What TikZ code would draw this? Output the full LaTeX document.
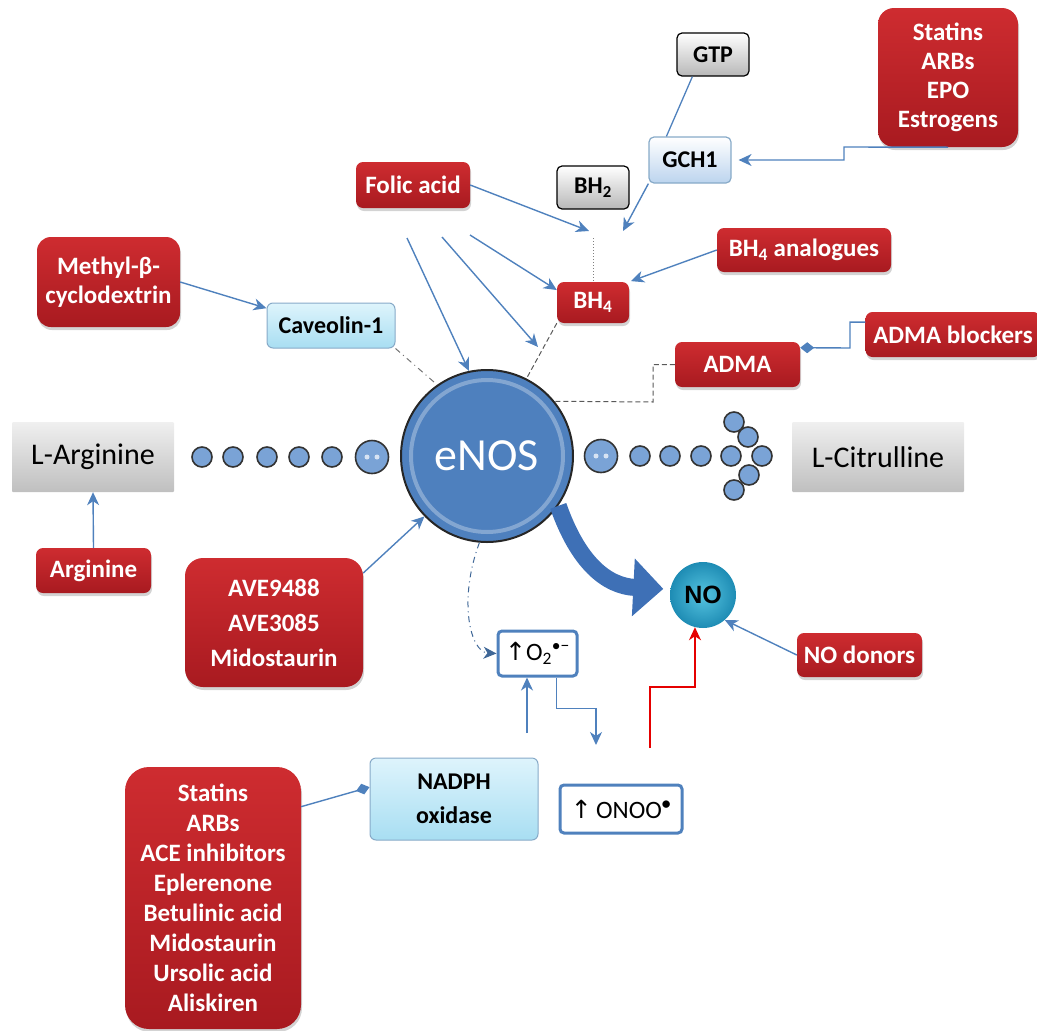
\documentclass[tikz,border=0pt]{standalone}
\usepackage{fontspec}
\setmainfont{Carlito}
\newfontfamily\symbfont{DejaVu Sans}
\newfontfamily\nofont{Liberation Sans}
\usetikzlibrary{arrows.meta,shadows}

\definecolor{linkblue}{RGB}{79,129,189}
\definecolor{drugtop}{RGB}{206,44,48}
\definecolor{drugbot}{RGB}{168,26,32}
\definecolor{paleedge}{RGB}{135,170,200}
\definecolor{cyantop}{RGB}{222,244,252}
\definecolor{cyanbot}{RGB}{168,222,242}
\definecolor{gchbot}{RGB}{188,212,238}
\definecolor{enosblue}{RGB}{78,128,190}
\definecolor{dotblue}{RGB}{122,163,214}
\definecolor{nocore}{RGB}{86,196,224}
\definecolor{norim}{RGB}{30,140,180}
\definecolor{bigblue}{RGB}{62,112,182}

\tikzset{
  drug/.style={rounded corners=7pt, top color=drugtop, bottom color=drugbot, text=white,
    font=\bfseries\fontsize{25}{29}\selectfont, align=center, inner sep=0pt,
    drop shadow={opacity=0.35, shadow xshift=1pt, shadow yshift=-3pt}},
  greybox/.style={draw=black, line width=1.2pt, rounded corners=5pt, top color=white, bottom color=black!28,
    font=\bfseries\fontsize{24}{28}\selectfont, inner sep=0pt},
  palebox/.style={draw=paleedge, line width=1pt, rounded corners=6pt, top color=cyantop, bottom color=cyanbot,
    font=\bfseries\fontsize{24}{34}\selectfont, align=center, inner sep=0pt},
  substrate/.style={rounded corners=1pt, top color=black!6, bottom color=black!25,
    font=\fontsize{30}{34}\selectfont, inner sep=0pt},
  radical/.style={draw=linkblue, line width=3pt, rounded corners=4pt, fill=white,
    font=\fontsize{25}{28}\selectfont, inner sep=0pt},
  dot/.style={circle, draw=black!80, line width=1.6pt, fill=dotblue, minimum size=20pt, inner sep=0pt},
  bigdot/.style={dot, minimum size=33pt},
  arr/.style={draw=linkblue, line width=1.4pt, -{Stealth[length=13pt,width=12pt,inset=4pt]}},
  blocker/.style={draw=linkblue, line width=1.4pt, -{Diamond[length=14pt,width=11pt]}},
  redarr/.style={draw=red!90!black, line width=1.4pt, -{Stealth[length=13pt,width=12pt,inset=4pt]}},
  dashlink/.style={draw=black!65, line width=1pt, dash pattern=on 5pt off 3pt},
  dashdotlink/.style={draw=black!55, line width=1pt, dash pattern=on 6pt off 4pt on 1pt off 4pt},
}

\begin{document}
\begin{tikzpicture}[x=1pt,y=-1pt]
  \useasboundingbox (0,0) rectangle (1037,1031);

  \node[circle, draw=black!85, line width=2pt, fill=enosblue, minimum size=172pt, inner sep=0pt,
    text=white, font=\fontsize{46}{50}\selectfont] (enos) at (487,456) {eNOS};
  \draw[white, opacity=.3, line width=4pt] (enos.center) circle (76);

  \node[greybox, minimum width=72pt, minimum height=43pt] (gtp) at (713,54.5) {GTP};
  \node[greybox, draw=paleedge, bottom color=gchbot, minimum width=82pt, minimum height=46pt] (gch) at (690,160) {GCH1};
  \node[greybox, minimum width=72pt, minimum height=43pt] (bhtwo) at (593,187.5) {BH\textsubscript{2}};
  \node[drug, minimum width=114pt, minimum height=46pt] (folic) at (413,185) {Folic acid};
  \node[drug, minimum width=72pt, minimum height=41pt] (bhfour) at (593,302.5) {BH\textsubscript{4}};
  \node[drug, minimum width=174pt, minimum height=44pt] (bhana) at (804,250) {BH\textsubscript{4} analogues};
  \node[drug, rounded corners=16pt, minimum width=140pt, minimum height=139pt] (statinsA) at (948,77.5)
    {Statins\\ARBs\\EPO\\Estrogens};
  \node[drug, minimum width=125pt, minimum height=45pt] (adma) at (737.5,364.5) {ADMA};
  \node[drug, minimum width=175pt, minimum height=45pt] (admablk) at (953,334.5) {ADMA blockers};
  \node[drug, rounded corners=14pt, minimum width=143pt, minimum height=90pt] (methyl) at (108.5,282)
    {Methyl-β-\\cyclodextrin};
  \node[palebox, minimum width=128pt, minimum height=45pt] (caveolin) at (331,325.5) {Caveolin-1};

  \node[substrate, minimum width=162pt, minimum height=70pt] (larg) at (93,457) {L-Arginine};
  \node[drug, minimum width=115pt, minimum height=45pt] (arginine) at (93.5,570.5) {Arginine};
  \node[drug, rounded corners=18pt, font=\bfseries\fontsize{25}{35}\selectfont, minimum width=178pt,
    minimum height=129pt] (ave) at (274,622.5) {AVE9488\\AVE3085\\Midostaurin};
  \node[substrate, minimum width=172pt, minimum height=70pt] (lcit) at (878,457) {L-Citrulline};

  \node[circle, inner color=nocore, outer color=norim, minimum size=66pt, inner sep=0pt,
    font=\nofont\bfseries\fontsize{25}{28}\selectfont] (no) at (703,595) {NO};
  \node[drug, minimum width=125pt, minimum height=44pt] (nodonor) at (859.5,655) {NO donors};

  \node[radical, minimum width=79pt, minimum height=45pt] (otwo) at (537.5,653.5)
    {{\symbfont ↑}O\textsubscript{2}\textsuperscript{•−}};
  \node[radical, minimum width=122pt, minimum height=48pt] (onoo) at (621,809)
    {{\symbfont ↑}\,ONOO\textsuperscript{\bfseries•}};
  \node[palebox, minimum width=168pt, minimum height=82pt] (nadph) at (454,799) {NADPH\\oxidase};
  \node[drug, rounded corners=24pt, font=\bfseries\fontsize{25}{30}\selectfont, minimum width=176pt,
    minimum height=262pt] (statinsB) at (213,898)
    {Statins\\ARBs\\ACE inhibitors\\Eplerenone\\Betulinic acid\\Midostaurin\\Ursolic acid\\Aliskiren};

  \node[dot] (la) at (202,457) {};
  \node[dot] (lb) at (233,457) {};
  \node[dot] (lc) at (267,457) {};
  \node[dot] (ld) at (299,457) {};
  \node[dot] (le) at (332,457) {};
  \node[bigdot] (lbig) at (372,457) {};
  \node[bigdot] (rbig) at (601,456) {};
  \node[dot] (ra) at (640,456) {};
  \node[dot] (rb) at (670,456) {};
  \node[dot] (rc) at (701,456) {};
  \node[dot] (rd) at (731,456) {};
  \node[dot] (ca) at (734,422) {};
  \node[dot] (cb) at (748,437) {};
  \node[dot] (cc) at (762,456) {};
  \node[dot] (cd) at (749,475) {};
  \node[dot] (ce) at (734,490) {};
  \fill[white!70!dotblue] (lbig.center) ++(-5,0) circle (2.5) ++(10,0) circle (2.5);
  \fill[white!70!dotblue] (rbig.center) ++(-5,0) circle (2.5) ++(10,0) circle (2.5);

  \coordinate (bhhub) at (593,238);
  \coordinate (folicend) at (589,231);
  \coordinate (gchend) at (623,231);
  \coordinate (fa) at (407,238);
  \coordinate (fb) at (442,237);
  \coordinate (fbend) at (538,347);
  \coordinate (fc) at (470,235);
  \coordinate (nadphup) at (527,733);
  \coordinate (onooin) at (596,745);
  \coordinate (redstart) at (650,748);

  \draw[arr] (folic.east) -- (folicend);
  \draw[arr] (gch.south west) -- (gchend);
  \draw[linkblue, line width=1.3pt] (gtp.227) -- (gch.135);
  \draw[arr, shorten >=7pt] (statinsA.south) -- (844,147) |- (gch.east);
  \draw[black!50, line width=1pt, dotted] (bhhub) -- (bhfour.north);
  \draw[arr, shorten >=2pt] (bhana.west) -- (bhfour.north east);
  \draw[arr] (fa) -- (enos.102);
  \draw[arr] (fb) -- (fbend);
  \draw[arr] (fc) -- (bhfour.161);
  \draw[dashlink] (bhfour.south west) -- (enos.63);
  \draw[dashdotlink] (caveolin.south east) -- (enos.125);
  \draw[arr] (methyl.east) -- (caveolin.165);
  \draw[blocker] (admablk.172) -| (850,348) -- (adma.15);
  \draw[dashlink] (adma.west) -| (653,402) -- (enos.39);
  \draw[arr] (arginine.north) -- (larg.south);
  \draw[arr] (ave.29) -- (enos.224);
  \draw[arr] (nodonor.west) -- (no.311);
  \draw[dashdotlink, draw=linkblue!80!black, -{Stealth[length=13pt,width=12pt,inset=4pt]}]
    (enos.265) .. controls (458,600) and (470,652) .. (otwo.west);
  \draw[arr] (nadphup) -- (nadphup |- otwo.south);
  \draw[arr] (otwo.308) -- ++(0,31) -| (onooin);
  \draw[redarr] (redstart) -- (650,687) -| (no.256);
  \draw[blocker] (statinsB.46) -- (nadph.172);
  \draw[bigblue, line width=17pt, -{Triangle[length=30pt,width=56pt]}, shorten >=7pt]
    (enos.325) .. controls (578,562) and (606,586) .. (no.170);
\end{tikzpicture}
\end{document}
